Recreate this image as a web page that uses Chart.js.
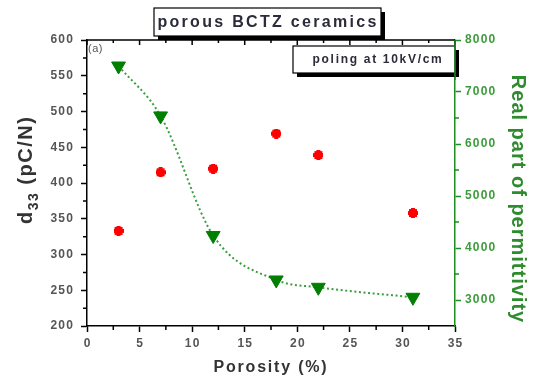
<!DOCTYPE html>
<html>
<head>
<meta charset="utf-8">
<script src="https://cdn.jsdelivr.net/npm/chart.js@4.4.1/dist/chart.umd.min.js"></script>
<style>
html, body { margin: 0; padding: 0; background: #fff; overflow: hidden; }
canvas { display: block; }
</style>
</head>
<body>
<canvas id="c" width="533" height="379"></canvas>
<script>
// Porosity of the BCTZ ceramics (%)
const porosity = [3, 7, 12, 18, 22, 31];
// Piezoelectric coefficient d33 (pC/N)
const d33 = [333, 415, 420, 469, 439, 358];
// Real part of the permittivity
const permittivity = [7500, 6540, 4240, 3385, 3244, 3052];

// Axis tick labels
const xTicks = [0, 5, 10, 15, 20, 25, 30, 35];
const d33Ticks = [200, 250, 300, 350, 400, 450, 500, 550, 600];
const permTicks = [3000, 4000, 5000, 6000, 7000, 8000];

const FONT = '"Liberation Sans", Arial, sans-serif';
const GREEN_AXIS = '#1e8c1e';
const GREEN_TEXT = '#3c9c3c';

// Filled plus-shaped marker for the d33 points
function plusMarker() {
  const c = document.createElement('canvas');
  c.width = 10; c.height = 10;
  const g = c.getContext('2d');
  g.fillStyle = '#ff0000';
  g.fillRect(3, 0, 4, 10);
  g.fillRect(0, 3, 10, 4);
  g.fillRect(1, 1, 8, 8);
  return c;
}

function text(ctx, s, x, y, font, color, align, baseline, spacing) {
  ctx.save();
  ctx.font = font;
  ctx.fillStyle = color;
  ctx.textAlign = align;
  ctx.textBaseline = baseline;
  ctx.letterSpacing = (spacing || 0) + 'px';
  ctx.fillText(s, x, y);
  ctx.restore();
}

function shadowBox(ctx, x, y, w, h, off) {
  ctx.save();
  ctx.fillStyle = '#000';
  ctx.fillRect(x + off, y + off, w, h);
  ctx.fillStyle = '#fff';
  ctx.fillRect(x, y, w, h);
  ctx.strokeStyle = '#000';
  ctx.lineWidth = 1.2;
  ctx.strokeRect(x, y, w, h);
  ctx.restore();
}

const decorations = {
  id: 'decorations',
  afterDraw(chart) {
    const ctx = chart.ctx;
    const a = chart.chartArea;
    const sx = chart.scales.x, sy = chart.scales.y, sy1 = chart.scales.y1;

    ctx.save();
    ctx.lineWidth = 1.5;
    ctx.strokeStyle = '#000';
    // top frame with inward ticks
    ctx.beginPath();
    ctx.moveTo(a.left, a.top);
    ctx.lineTo(a.right, a.top);
    for (let v = 0; v <= 35; v += 2.5) {
      const px = sx.getPixelForValue(v);
      const len = (v % 5 === 0) ? 5 : 3;
      ctx.moveTo(px, a.top);
      ctx.lineTo(px, a.top + len);
    }
    // bottom minor ticks
    for (let v = 2.5; v < 35; v += 5) {
      const px = sx.getPixelForValue(v);
      ctx.moveTo(px, a.bottom);
      ctx.lineTo(px, a.bottom + 4);
    }
    // left minor ticks
    for (let v = 225; v < 600; v += 50) {
      const py = sy.getPixelForValue(v);
      ctx.moveTo(a.left, py);
      ctx.lineTo(a.left - 4, py);
    }
    ctx.stroke();
    // right minor ticks
    ctx.strokeStyle = GREEN_AXIS;
    ctx.beginPath();
    for (let v = 3500; v < 8000; v += 1000) {
      const py = sy1.getPixelForValue(v);
      ctx.moveTo(a.right, py);
      ctx.lineTo(a.right + 4, py);
    }
    ctx.stroke();
    ctx.restore();

    // tick labels
    const tickFont = 'bold 12px ' + FONT;
    d33Ticks.forEach(v => text(ctx, String(v), 74, sy.getPixelForValue(v), tickFont, '#555', 'right', 'middle', 1.2));
    xTicks.forEach(v => text(ctx, String(v), sx.getPixelForValue(v) + 0.6, 338, tickFont, '#555', 'center', 'top', 1.2));
    permTicks.forEach(v => text(ctx, String(v), 465, sy1.getPixelForValue(v), tickFont, GREEN_TEXT, 'left', 'middle', 1.2));

    // panel letter
    text(ctx, '(a)', 88, 49, '11px ' + FONT, '#555', 'left', 'middle', 0.5);

    // x axis title
    text(ctx, 'Porosity (%)', 271, 368, 'bold 16px ' + FONT, '#333', 'center', 'middle', 1.8);

    // left axis title: d33 (pC/N), read bottom to top
    ctx.save();
    ctx.translate(32, 224);
    ctx.rotate(-Math.PI / 2);
    ctx.fillStyle = '#333';
    ctx.textBaseline = 'alphabetic';
    ctx.textAlign = 'left';
    ctx.font = 'bold 20px ' + FONT;
    ctx.letterSpacing = '1.5px';
    ctx.fillText('d', 0, 0);
    let w = ctx.measureText('d').width;
    ctx.font = 'bold 14px ' + FONT;
    ctx.fillText('33', w, 6);
    w += ctx.measureText('33').width;
    ctx.font = 'bold 20px ' + FONT;
    ctx.fillText(' (pC/N)', w, 0);
    ctx.restore();

    // right axis title, read top to bottom
    ctx.save();
    ctx.translate(512, 199);
    ctx.rotate(Math.PI / 2);
    ctx.fillStyle = '#2e8b2e';
    ctx.font = 'bold 20px ' + FONT;
    ctx.letterSpacing = '1px';
    ctx.textAlign = 'center';
    ctx.textBaseline = 'alphabetic';
    ctx.fillText('Real part of permittivity', 0, 0);
    ctx.restore();

    // title box
    shadowBox(ctx, 154, 8, 227, 28, 4);
    text(ctx, 'porous BCTZ ceramics', 268, 23, 'bold 16px ' + FONT, '#2b2b3a', 'center', 'middle', 2.3);

    // annotation box
    shadowBox(ctx, 293, 46, 162, 27, 4);
    text(ctx, 'poling at 10kV/cm', 378, 60, 'bold 12px ' + FONT, '#2b2b3a', 'center', 'middle', 1.7);

    // green axis line stays on top of the box edge
    ctx.save();
    ctx.strokeStyle = GREEN_AXIS;
    ctx.lineWidth = 1.5;
    ctx.beginPath();
    ctx.moveTo(a.right, a.top);
    ctx.lineTo(a.right, 80);
    ctx.stroke();
    ctx.restore();
  }
};

new Chart(document.getElementById('c'), {
  type: 'scatter',
  data: {
    datasets: [
      {
        label: 'd33',
        data: porosity.map((x, i) => ({ x: x, y: d33[i] })),
        yAxisID: 'y',
        pointStyle: plusMarker(),
        showLine: false
      },
      {
        label: 'permittivity',
        data: porosity.map((x, i) => ({ x: x, y: permittivity[i] })),
        yAxisID: 'y1',
        showLine: true,
        borderColor: '#3a9f3a',
        borderWidth: 2,
        borderDash: [2, 2.6],
        cubicInterpolationMode: 'monotone',
        pointStyle: 'triangle',
        rotation: 180,
        pointRadius: 8,
        pointHoverRadius: 8,
        pointBackgroundColor: '#007f00',
        pointBorderColor: '#007f00',
        pointBorderWidth: 1
      }
    ]
  },
  options: {
    responsive: false,
    animation: false,
    events: [],
    layout: { padding: { top: 40, left: 0, right: 0, bottom: 0 } },
    plugins: { legend: { display: false }, tooltip: { enabled: false } },
    scales: {
      x: {
        type: 'linear',
        min: 0, max: 35,
        afterBuildTicks: s => { s.ticks = xTicks.map(v => ({ value: v })); },
        ticks: { display: false },
        grid: { drawOnChartArea: false, drawTicks: true, tickLength: 6, tickColor: '#000', tickWidth: 1.5 },
        border: { color: '#000', width: 1.5 },
        afterFit: s => { s.height = 53; }
      },
      y: {
        type: 'linear',
        position: 'left',
        min: 200, max: 600,
        afterBuildTicks: s => { s.ticks = d33Ticks.map(v => ({ value: v })); },
        ticks: { display: false },
        grid: { drawOnChartArea: false, drawTicks: true, tickLength: 6, tickColor: '#000', tickWidth: 1.5 },
        border: { color: '#000', width: 1.5 },
        afterFit: s => { s.width = 87; }
      },
      y1: {
        type: 'linear',
        position: 'right',
        min: 2500, max: 8000,
        afterBuildTicks: s => { s.ticks = permTicks.map(v => ({ value: v })); },
        ticks: { display: false },
        grid: { drawOnChartArea: false, drawTicks: true, tickLength: 6, tickColor: GREEN_AXIS, tickWidth: 1.5 },
        border: { color: GREEN_AXIS, width: 1.5 },
        afterFit: s => { s.width = 78; }
      }
    }
  },
  plugins: [decorations]
});
</script>
</body>
</html>
